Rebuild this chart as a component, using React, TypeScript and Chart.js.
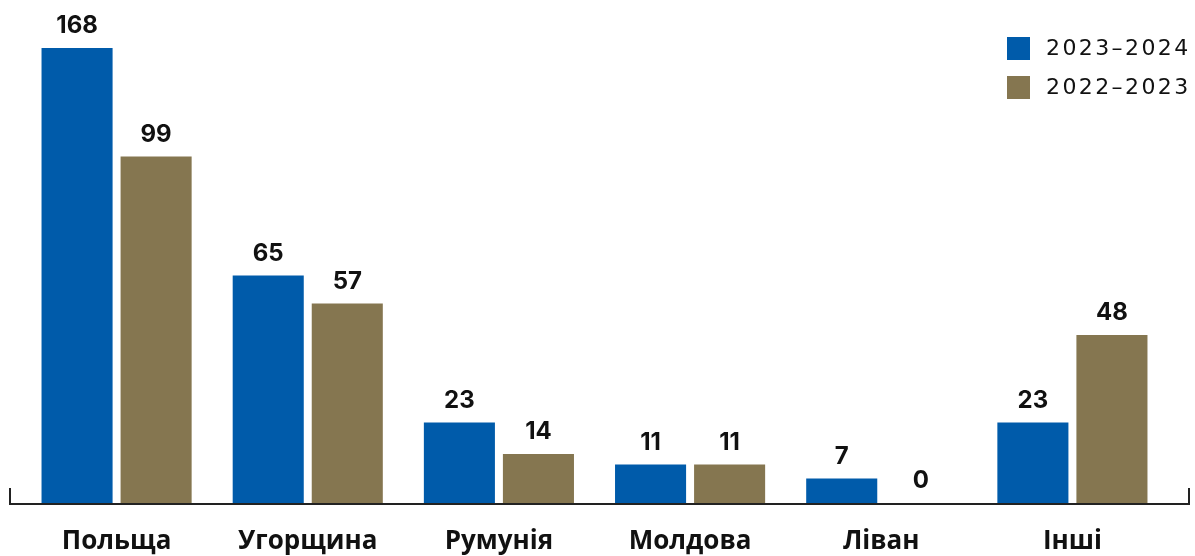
import React, { useEffect, useRef } from "react";
import { Chart, registerables } from "chart.js";

Chart.register(...registerables);

const categories = ["Польща", "Угорщина", "Румунія", "Молдова", "Ліван", "Інші"];
const values2024 = [168, 65, 23, 11, 7, 23];
const values2023 = [99, 57, 14, 11, 0, 48];
const seriesLabels = ["2023–2024", "2022–2023"];
const seriesColors = ["#005BAA", "#857650"];
const yMax = 130;

const overlayPlugin = {
  id: "overlay",
  afterDatasetsDraw(chart: any) {
    const ctx = chart.ctx as CanvasRenderingContext2D;
    const area = chart.chartArea;
    ctx.save();
    // value labels
    ctx.font = "bold 24px Inter";
    ctx.textAlign = "center";
    ctx.textBaseline = "alphabetic";
    ctx.fillStyle = "#111111";
    chart.data.datasets.forEach((ds: any, i: number) => {
      const meta = chart.getDatasetMeta(i);
      meta.data.forEach((bar: any, j: number) => {
        const y = Math.max(bar.y, area.top);
        ctx.fillText(String(ds.data[j]), bar.x, y - 15);
      });
    });
    // category labels
    ctx.font = "bold 26px 'Open Sans'";
    const xs = chart.scales.x;
    categories.forEach((c, i) => {
      ctx.fillText(c, xs.getPixelForValue(i), 549);
    });
    // axis line with end ticks
    const yb = area.bottom + 1;
    ctx.strokeStyle = "#222222";
    ctx.lineWidth = 2;
    ctx.beginPath();
    ctx.moveTo(10, yb - 16);
    ctx.lineTo(10, yb);
    ctx.lineTo(1189, yb);
    ctx.lineTo(1189, yb - 16);
    ctx.stroke();
    // legend
    ctx.textAlign = "left";
    ctx.textBaseline = "middle";
    ctx.font = "22px 'DejaVu Sans'";
    (ctx as any).letterSpacing = "2.4px";
    chart.data.datasets.forEach((ds: any, i: number) => {
      const top = 37 + i * 39;
      ctx.fillStyle = ds.backgroundColor;
      ctx.fillRect(1007, top, 23, 23);
      ctx.fillStyle = "#111111";
      ctx.fillText(ds.label, 1046, top + 12);
    });
    ctx.restore();
  },
};

export default function App() {
  const canvasRef = useRef<HTMLCanvasElement | null>(null);

  useEffect(() => {
    if (!canvasRef.current) return;
    const chart = new Chart(canvasRef.current, {
      type: "bar",
      data: {
        labels: categories,
        datasets: [
          {
            label: seriesLabels[0],
            data: values2024,
            backgroundColor: seriesColors[0],
            clip: 0,
          },
          {
            label: seriesLabels[1],
            data: values2023,
            backgroundColor: seriesColors[1],
            clip: 0,
          },
        ] as any,
      },
      options: {
        animation: false,
        responsive: true,
        maintainAspectRatio: false,
        layout: { padding: { top: 48, bottom: 53, left: 21, right: 27 } },
        datasets: {
          bar: { categoryPercentage: 0.827, barPercentage: 0.899 },
        } as any,
        plugins: {
          legend: { display: false },
          tooltip: { enabled: false },
        },
        scales: {
          x: { display: false },
          y: { display: false, min: 0, max: yMax },
        },
      },
      plugins: [overlayPlugin],
    });
    return () => chart.destroy();
  }, []);

  return (
    <div style={{ position: "absolute", left: 0, top: 0, width: 1195, height: 556, background: "#ffffff" }}>
      <canvas ref={canvasRef} />
    </div>
  );
}
